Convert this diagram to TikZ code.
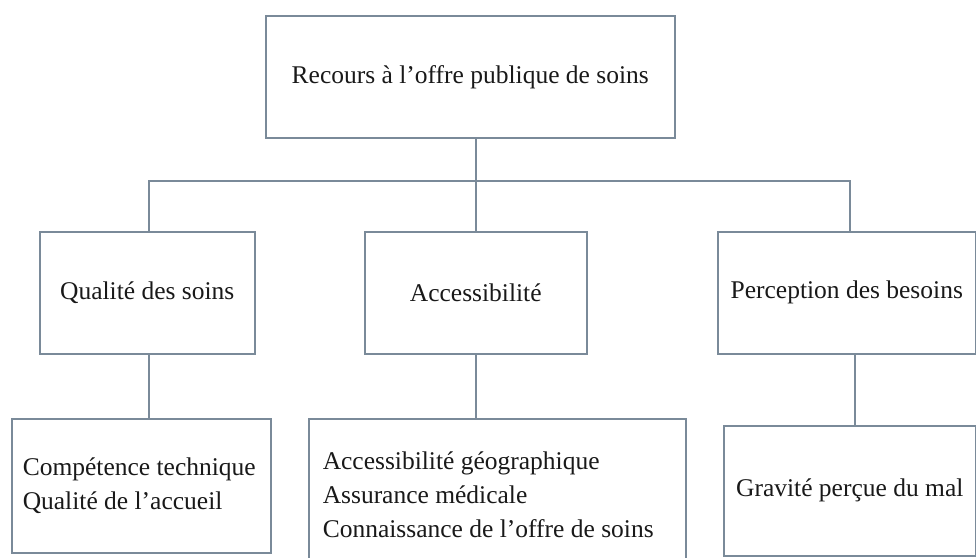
\documentclass[tikz,border=0pt]{standalone}
\usepackage{fontspec}
\setmainfont{Liberation Serif}
\definecolor{linec}{RGB}{122,138,153}
\definecolor{txt}{RGB}{25,25,25}
\begin{document}
\begin{tikzpicture}[x=1pt,y=-1pt,
  box/.style={draw=linec, line width=1.5pt, fill=white, inner sep=0pt,
    anchor=north west, font=\fontsize{25.5}{34}\selectfont, text=txt},
  listbox/.style={box, align=flush left},
  conn/.style={draw=linec, line width=1.5pt}]
\useasboundingbox[fill=white] (0,0) rectangle (976,557);

\node[box, minimum width=409pt, minimum height=122pt] (top) at (265,15) {\raisebox{-4pt}{Recours à l’offre publique de soins}};

\node[box, minimum width=215pt, minimum height=122pt] (qual) at (39,231) {Qualité des soins};
\node[box, minimum width=222pt, minimum height=122pt] (acc) at (364,231) {Accessibilité};
\node[box, minimum width=258pt, minimum height=122pt] (perc) at (717,231) {\raisebox{-2pt}{Perception des besoins}};

\node[listbox, minimum width=259pt, minimum height=134pt, inner xsep=11pt, text width=237pt] (b1) at (11,418)
  {Compétence technique\\Qualité de l’accueil};
\node[listbox, minimum width=377pt, minimum height=152pt, inner xsep=14pt, text width=349pt] (b2) at (308,418)
  {Accessibilité géographique\\Assurance médicale\\Connaissance de l’offre de soins};
\node[box, minimum width=252pt, minimum height=130pt] (b3) at (723,425) {Gravité perçue du mal};

\coordinate (jl) at (149,181);
\coordinate (jr) at (850,181);
\coordinate (jp) at (855,0);

\draw[conn] (acc.north) -- (acc.north |- top.south);
\draw[conn] (qual.north -| jl) -- (jl) -- (jr) -- (perc.north -| jr);
\draw[conn] (qual.south -| jl) -- (b1.north -| jl);
\draw[conn] (acc.south) -- (acc.south |- b2.north);
\draw[conn] (perc.south -| jp) -- (b3.north -| jp);
\end{tikzpicture}
\end{document}
